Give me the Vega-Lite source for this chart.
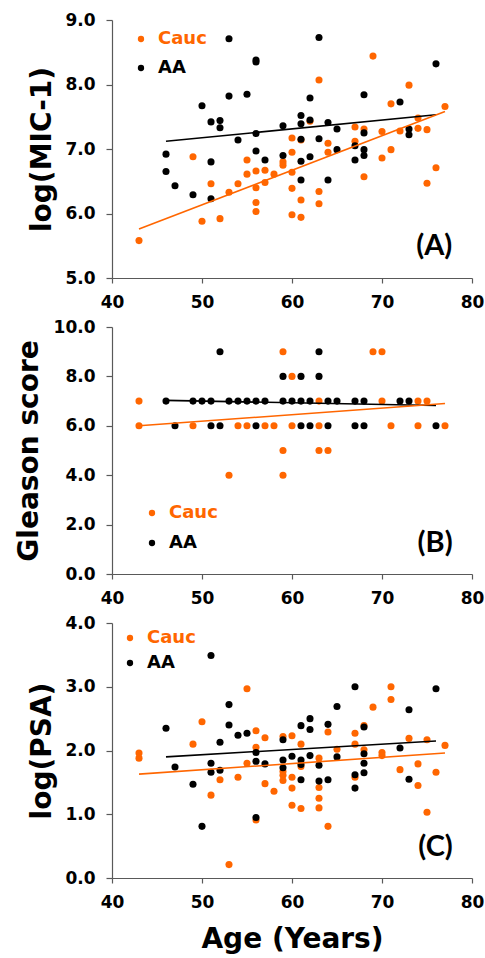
{
  "$schema": "https://vega.github.io/schema/vega-lite/v6.json",
  "padding": {"left": 15, "top": 11, "right": 2, "bottom": 2},
  "spacing": 8,
  "datasets": {
    "mic": [
      {"g": "Cauc", "age": 43, "v": 5.58}, {"g": "Cauc", "age": 49, "v": 6.88}, {"g": "Cauc", "age": 50, "v": 5.88},
      {"g": "Cauc", "age": 51, "v": 6.46}, {"g": "Cauc", "age": 52, "v": 5.92}, {"g": "Cauc", "age": 53, "v": 6.33},
      {"g": "Cauc", "age": 54, "v": 6.46}, {"g": "Cauc", "age": 55, "v": 6.83}, {"g": "Cauc", "age": 55, "v": 6.61},
      {"g": "Cauc", "age": 56, "v": 6.66}, {"g": "Cauc", "age": 56, "v": 6.40}, {"g": "Cauc", "age": 56, "v": 6.17},
      {"g": "Cauc", "age": 56, "v": 6.03}, {"g": "Cauc", "age": 57, "v": 6.67}, {"g": "Cauc", "age": 57, "v": 6.48},
      {"g": "Cauc", "age": 58, "v": 6.61}, {"g": "Cauc", "age": 59, "v": 6.80}, {"g": "Cauc", "age": 59, "v": 6.75},
      {"g": "Cauc", "age": 60, "v": 7.17}, {"g": "Cauc", "age": 60, "v": 6.95}, {"g": "Cauc", "age": 60, "v": 6.64},
      {"g": "Cauc", "age": 60, "v": 6.39}, {"g": "Cauc", "age": 60, "v": 5.98}, {"g": "Cauc", "age": 61, "v": 7.14},
      {"g": "Cauc", "age": 61, "v": 6.21}, {"g": "Cauc", "age": 61, "v": 5.94}, {"g": "Cauc", "age": 62, "v": 7.43},
      {"g": "Cauc", "age": 63, "v": 8.07}, {"g": "Cauc", "age": 63, "v": 6.34}, {"g": "Cauc", "age": 63, "v": 6.15},
      {"g": "Cauc", "age": 64, "v": 7.09}, {"g": "Cauc", "age": 64, "v": 6.95}, {"g": "Cauc", "age": 67, "v": 7.34},
      {"g": "Cauc", "age": 67, "v": 7.12}, {"g": "Cauc", "age": 68, "v": 7.31}, {"g": "Cauc", "age": 68, "v": 6.57},
      {"g": "Cauc", "age": 69, "v": 8.44}, {"g": "Cauc", "age": 70, "v": 7.27}, {"g": "Cauc", "age": 70, "v": 6.86},
      {"g": "Cauc", "age": 71, "v": 7.70}, {"g": "Cauc", "age": 71, "v": 6.99}, {"g": "Cauc", "age": 72, "v": 7.28},
      {"g": "Cauc", "age": 73, "v": 7.99}, {"g": "Cauc", "age": 74, "v": 7.48}, {"g": "Cauc", "age": 74, "v": 7.32},
      {"g": "Cauc", "age": 75, "v": 7.30}, {"g": "Cauc", "age": 75, "v": 6.47}, {"g": "Cauc", "age": 76, "v": 6.71},
      {"g": "Cauc", "age": 77, "v": 7.66},
      {"g": "AA", "age": 46, "v": 6.92}, {"g": "AA", "age": 46, "v": 6.65}, {"g": "AA", "age": 47, "v": 6.43},
      {"g": "AA", "age": 49, "v": 6.29}, {"g": "AA", "age": 50, "v": 7.67}, {"g": "AA", "age": 51, "v": 7.42},
      {"g": "AA", "age": 51, "v": 6.80}, {"g": "AA", "age": 51, "v": 6.23}, {"g": "AA", "age": 52, "v": 7.44},
      {"g": "AA", "age": 52, "v": 7.33}, {"g": "AA", "age": 53, "v": 8.71}, {"g": "AA", "age": 53, "v": 7.82},
      {"g": "AA", "age": 54, "v": 7.14}, {"g": "AA", "age": 55, "v": 7.85}, {"g": "AA", "age": 56, "v": 8.38},
      {"g": "AA", "age": 56, "v": 8.35}, {"g": "AA", "age": 56, "v": 7.24}, {"g": "AA", "age": 56, "v": 6.97},
      {"g": "AA", "age": 57, "v": 6.83}, {"g": "AA", "age": 59, "v": 7.36}, {"g": "AA", "age": 59, "v": 6.90},
      {"g": "AA", "age": 61, "v": 7.52}, {"g": "AA", "age": 61, "v": 7.39}, {"g": "AA", "age": 61, "v": 7.15},
      {"g": "AA", "age": 61, "v": 6.81}, {"g": "AA", "age": 61, "v": 6.52}, {"g": "AA", "age": 62, "v": 7.79},
      {"g": "AA", "age": 62, "v": 7.45}, {"g": "AA", "age": 62, "v": 6.88}, {"g": "AA", "age": 63, "v": 8.73},
      {"g": "AA", "age": 63, "v": 7.16}, {"g": "AA", "age": 64, "v": 7.41}, {"g": "AA", "age": 64, "v": 6.52},
      {"g": "AA", "age": 65, "v": 7.31}, {"g": "AA", "age": 65, "v": 6.99}, {"g": "AA", "age": 67, "v": 7.05},
      {"g": "AA", "age": 67, "v": 6.83}, {"g": "AA", "age": 68, "v": 7.84}, {"g": "AA", "age": 68, "v": 7.25},
      {"g": "AA", "age": 68, "v": 6.99}, {"g": "AA", "age": 68, "v": 6.90}, {"g": "AA", "age": 72, "v": 7.73},
      {"g": "AA", "age": 73, "v": 7.31}, {"g": "AA", "age": 73, "v": 7.22}, {"g": "AA", "age": 76, "v": 8.32}
    ],
    "gleason": [
      {"g": "Cauc", "age": 43, "v": 7}, {"g": "Cauc", "age": 63, "v": 7}, {"g": "Cauc", "age": 70, "v": 7},
      {"g": "Cauc", "age": 74, "v": 7}, {"g": "Cauc", "age": 75, "v": 7},
      {"g": "Cauc", "age": 43, "v": 6}, {"g": "Cauc", "age": 49, "v": 6}, {"g": "Cauc", "age": 54, "v": 6},
      {"g": "Cauc", "age": 55, "v": 6}, {"g": "Cauc", "age": 57, "v": 6}, {"g": "Cauc", "age": 58, "v": 6},
      {"g": "Cauc", "age": 60, "v": 6}, {"g": "Cauc", "age": 63, "v": 6}, {"g": "Cauc", "age": 71, "v": 6},
      {"g": "Cauc", "age": 74, "v": 6}, {"g": "Cauc", "age": 77, "v": 6},
      {"g": "Cauc", "age": 59, "v": 9}, {"g": "Cauc", "age": 69, "v": 9}, {"g": "Cauc", "age": 70, "v": 9},
      {"g": "Cauc", "age": 60, "v": 8},
      {"g": "Cauc", "age": 59, "v": 5}, {"g": "Cauc", "age": 63, "v": 5}, {"g": "Cauc", "age": 64, "v": 5},
      {"g": "Cauc", "age": 53, "v": 4}, {"g": "Cauc", "age": 59, "v": 4},
      {"g": "AA", "age": 46, "v": 7}, {"g": "AA", "age": 49, "v": 7}, {"g": "AA", "age": 50, "v": 7},
      {"g": "AA", "age": 51, "v": 7}, {"g": "AA", "age": 53, "v": 7}, {"g": "AA", "age": 54, "v": 7},
      {"g": "AA", "age": 55, "v": 7}, {"g": "AA", "age": 56, "v": 7}, {"g": "AA", "age": 57, "v": 7},
      {"g": "AA", "age": 59, "v": 7}, {"g": "AA", "age": 60, "v": 7}, {"g": "AA", "age": 61, "v": 7},
      {"g": "AA", "age": 62, "v": 7}, {"g": "AA", "age": 64, "v": 7}, {"g": "AA", "age": 65, "v": 7},
      {"g": "AA", "age": 67, "v": 7}, {"g": "AA", "age": 68, "v": 7}, {"g": "AA", "age": 72, "v": 7},
      {"g": "AA", "age": 73, "v": 7},
      {"g": "AA", "age": 47, "v": 6}, {"g": "AA", "age": 51, "v": 6}, {"g": "AA", "age": 52, "v": 6},
      {"g": "AA", "age": 56, "v": 6}, {"g": "AA", "age": 61, "v": 6}, {"g": "AA", "age": 62, "v": 6},
      {"g": "AA", "age": 64, "v": 6}, {"g": "AA", "age": 67, "v": 6}, {"g": "AA", "age": 68, "v": 6},
      {"g": "AA", "age": 76, "v": 6},
      {"g": "AA", "age": 52, "v": 9}, {"g": "AA", "age": 63, "v": 9},
      {"g": "AA", "age": 59, "v": 8}, {"g": "AA", "age": 61, "v": 8}, {"g": "AA", "age": 63, "v": 8}
    ],
    "psa": [
      {"g": "Cauc", "age": 43, "v": 1.96}, {"g": "Cauc", "age": 43, "v": 1.88}, {"g": "Cauc", "age": 49, "v": 2.10},
      {"g": "Cauc", "age": 50, "v": 2.45}, {"g": "Cauc", "age": 51, "v": 1.30}, {"g": "Cauc", "age": 52, "v": 1.54},
      {"g": "Cauc", "age": 53, "v": 0.21}, {"g": "Cauc", "age": 54, "v": 1.58}, {"g": "Cauc", "age": 55, "v": 2.97},
      {"g": "Cauc", "age": 55, "v": 1.80}, {"g": "Cauc", "age": 56, "v": 2.31}, {"g": "Cauc", "age": 56, "v": 2.05},
      {"g": "Cauc", "age": 56, "v": 0.91}, {"g": "Cauc", "age": 57, "v": 2.20}, {"g": "Cauc", "age": 57, "v": 1.48},
      {"g": "Cauc", "age": 58, "v": 1.36}, {"g": "Cauc", "age": 59, "v": 2.22}, {"g": "Cauc", "age": 59, "v": 1.67},
      {"g": "Cauc", "age": 59, "v": 1.61}, {"g": "Cauc", "age": 59, "v": 1.53}, {"g": "Cauc", "age": 60, "v": 2.23},
      {"g": "Cauc", "age": 60, "v": 1.58}, {"g": "Cauc", "age": 60, "v": 1.41}, {"g": "Cauc", "age": 60, "v": 1.14},
      {"g": "Cauc", "age": 61, "v": 2.10}, {"g": "Cauc", "age": 61, "v": 1.75}, {"g": "Cauc", "age": 61, "v": 1.09},
      {"g": "Cauc", "age": 63, "v": 1.88}, {"g": "Cauc", "age": 63, "v": 1.42}, {"g": "Cauc", "age": 63, "v": 1.25},
      {"g": "Cauc", "age": 63, "v": 1.10}, {"g": "Cauc", "age": 64, "v": 2.29}, {"g": "Cauc", "age": 64, "v": 0.81},
      {"g": "Cauc", "age": 65, "v": 2.02}, {"g": "Cauc", "age": 67, "v": 2.27}, {"g": "Cauc", "age": 67, "v": 2.10},
      {"g": "Cauc", "age": 67, "v": 1.58}, {"g": "Cauc", "age": 68, "v": 2.39}, {"g": "Cauc", "age": 68, "v": 2.01},
      {"g": "Cauc", "age": 69, "v": 2.68}, {"g": "Cauc", "age": 70, "v": 1.97}, {"g": "Cauc", "age": 70, "v": 1.92},
      {"g": "Cauc", "age": 71, "v": 3.00}, {"g": "Cauc", "age": 71, "v": 2.80}, {"g": "Cauc", "age": 72, "v": 1.70},
      {"g": "Cauc", "age": 73, "v": 2.19}, {"g": "Cauc", "age": 74, "v": 1.79}, {"g": "Cauc", "age": 74, "v": 1.45},
      {"g": "Cauc", "age": 75, "v": 2.17}, {"g": "Cauc", "age": 75, "v": 1.03}, {"g": "Cauc", "age": 76, "v": 1.66},
      {"g": "Cauc", "age": 77, "v": 2.08},
      {"g": "AA", "age": 46, "v": 2.35}, {"g": "AA", "age": 47, "v": 1.74}, {"g": "AA", "age": 49, "v": 1.47},
      {"g": "AA", "age": 50, "v": 0.81}, {"g": "AA", "age": 51, "v": 3.49}, {"g": "AA", "age": 51, "v": 1.80},
      {"g": "AA", "age": 51, "v": 1.66}, {"g": "AA", "age": 52, "v": 2.13}, {"g": "AA", "age": 52, "v": 1.69},
      {"g": "AA", "age": 53, "v": 2.72}, {"g": "AA", "age": 53, "v": 2.40}, {"g": "AA", "age": 54, "v": 2.24},
      {"g": "AA", "age": 55, "v": 2.27}, {"g": "AA", "age": 56, "v": 1.97}, {"g": "AA", "age": 56, "v": 1.83},
      {"g": "AA", "age": 56, "v": 0.95}, {"g": "AA", "age": 57, "v": 1.79}, {"g": "AA", "age": 59, "v": 2.17},
      {"g": "AA", "age": 59, "v": 1.85}, {"g": "AA", "age": 59, "v": 1.73}, {"g": "AA", "age": 60, "v": 1.91},
      {"g": "AA", "age": 61, "v": 2.39}, {"g": "AA", "age": 61, "v": 1.85}, {"g": "AA", "age": 61, "v": 1.78},
      {"g": "AA", "age": 61, "v": 1.54}, {"g": "AA", "age": 62, "v": 2.50}, {"g": "AA", "age": 62, "v": 2.33},
      {"g": "AA", "age": 62, "v": 1.92}, {"g": "AA", "age": 63, "v": 1.77}, {"g": "AA", "age": 63, "v": 1.52},
      {"g": "AA", "age": 64, "v": 2.41}, {"g": "AA", "age": 64, "v": 1.54}, {"g": "AA", "age": 65, "v": 2.69},
      {"g": "AA", "age": 65, "v": 1.90}, {"g": "AA", "age": 67, "v": 3.00}, {"g": "AA", "age": 67, "v": 1.62},
      {"g": "AA", "age": 67, "v": 1.41}, {"g": "AA", "age": 68, "v": 2.37}, {"g": "AA", "age": 68, "v": 1.95},
      {"g": "AA", "age": 68, "v": 1.80}, {"g": "AA", "age": 68, "v": 1.65}, {"g": "AA", "age": 72, "v": 2.04},
      {"g": "AA", "age": 73, "v": 2.64}, {"g": "AA", "age": 73, "v": 1.55}, {"g": "AA", "age": 76, "v": 2.97}
    ],
    "fit": [
      {"panel": "A", "g": "AA", "age": 46, "v": 7.12}, {"panel": "A", "g": "AA", "age": 76, "v": 7.53},
      {"panel": "A", "g": "Cauc", "age": 43, "v": 5.76}, {"panel": "A", "g": "Cauc", "age": 77, "v": 7.58},
      {"panel": "B", "g": "AA", "age": 46, "v": 7.03}, {"panel": "B", "g": "AA", "age": 76, "v": 6.82},
      {"panel": "B", "g": "Cauc", "age": 43, "v": 6.0}, {"panel": "B", "g": "Cauc", "age": 77, "v": 6.90},
      {"panel": "C", "g": "AA", "age": 46, "v": 1.90}, {"panel": "C", "g": "AA", "age": 76, "v": 2.15},
      {"panel": "C", "g": "Cauc", "age": 43, "v": 1.63}, {"panel": "C", "g": "Cauc", "age": 77, "v": 1.96}
    ]
  },
  "config": {
    "view": {"stroke": null},
    "font": "DejaVu Sans",
    "axis": {
      "grid": false, "domainColor": "#595959", "tickColor": "#595959", "domainWidth": 1.2, "tickWidth": 1.2,
      "labelFont": "DejaVu Sans", "labelFontWeight": "bold", "labelFontSize": 17, "labelColor": "#000000",
      "titleFont": "DejaVu Sans", "titleFontWeight": "bold", "titleFontSize": 28, "titleColor": "#000000",
      "labelFlush": false, "labelOverlap": false
    },
    "axisX": {"tickSize": 5, "labelPadding": 11, "titlePadding": 15},
    "axisY": {"tickSize": 6, "labelPadding": 11, "titlePadding": 8},
    "legend": {
      "orient": "none", "title": null, "labelFont": "DejaVu Sans", "labelFontWeight": "bold", "labelFontSize": 18,
      "symbolType": "circle", "symbolSize": 40, "labelOffset": 8, "padding": 0, "symbolStrokeWidth": 0
    }
  },
  "resolve": {"scale": {"color": "independent", "x": "independent", "y": "independent"}, "legend": {"color": "independent"}},
  "vconcat": [
    {
      "width": 360, "height": 258,
      "layer": [
        {
          "data": {"name": "mic"},
          "mark": {"type": "circle", "size": 50, "opacity": 1},
          "encoding": {
            "x": {"field": "age", "type": "quantitative", "scale": {"domain": [40, 80], "nice": false, "zero": false}, "axis": {"values": [40, 50, 60, 70, 80], "title": null}},
            "y": {"field": "v", "type": "quantitative", "scale": {"domain": [5, 9], "nice": false, "zero": false}, "axis": {"values": [5, 6, 7, 8, 9], "format": ".1f", "title": "log(MIC-1)"}},
            "color": {"field": "g", "type": "nominal", "scale": {"domain": ["Cauc", "AA"], "range": ["#FF6600", "#000000"]},
              "legend": {"legendX": 20, "legendY": 10, "rowPadding": 11, "labelColor": {"expr": "datum.label == 'Cauc' ? '#FF6600' : '#000000'"}}}
          }
        },
        {
          "data": {"name": "fit"},
          "transform": [{"filter": "datum.panel == 'A'"}],
          "mark": {"type": "line", "strokeWidth": 1.6},
          "encoding": {
            "x": {"field": "age", "type": "quantitative"},
            "y": {"field": "v", "type": "quantitative"},
            "color": {"field": "g", "type": "nominal", "legend": null}
          }
        },
        {
          "data": {"values": [{}]},
          "mark": {"type": "text", "font": "Lato", "fontWeight": "bold", "fontSize": 29, "align": "center", "baseline": "middle", "color": "#000000"},
          "encoding": {"x": {"datum": 75.8}, "y": {"datum": 5.5}, "text": {"value": "(A)"}}
        }
      ]
    },
    {
      "width": 360, "height": 247,
      "layer": [
        {
          "data": {"name": "gleason"},
          "mark": {"type": "circle", "size": 50, "opacity": 1},
          "encoding": {
            "x": {"field": "age", "type": "quantitative", "scale": {"domain": [40, 80], "nice": false, "zero": false}, "axis": {"values": [40, 50, 60, 70, 80], "title": null}},
            "y": {"field": "v", "type": "quantitative", "scale": {"domain": [0, 10], "nice": false}, "axis": {"values": [0, 2, 4, 6, 8, 10], "format": ".1f", "title": "Gleason score", "titlePadding": 10}},
            "color": {"field": "g", "type": "nominal", "scale": {"domain": ["Cauc", "AA"], "range": ["#FF6600", "#000000"]},
              "legend": {"legendX": 31, "legendY": 177, "rowPadding": 12, "labelColor": {"expr": "datum.label == 'Cauc' ? '#FF6600' : '#000000'"}}}
          }
        },
        {
          "data": {"name": "fit"},
          "transform": [{"filter": "datum.panel == 'B'"}],
          "mark": {"type": "line", "strokeWidth": 1.6},
          "encoding": {
            "x": {"field": "age", "type": "quantitative"},
            "y": {"field": "v", "type": "quantitative"},
            "color": {"field": "g", "type": "nominal", "legend": null}
          }
        },
        {
          "data": {"values": [{}]},
          "mark": {"type": "text", "font": "Lato", "fontWeight": "bold", "fontSize": 29, "align": "center", "baseline": "middle", "color": "#000000"},
          "encoding": {"x": {"datum": 75.9}, "y": {"datum": 1.27}, "text": {"value": "(B)"}}
        }
      ]
    },
    {
      "width": 360, "height": 255,
      "layer": [
        {
          "data": {"name": "psa"},
          "mark": {"type": "circle", "size": 50, "opacity": 1},
          "encoding": {
            "x": {"field": "age", "type": "quantitative", "scale": {"domain": [40, 80], "nice": false, "zero": false}, "axis": {"values": [40, 50, 60, 70, 80], "title": "Age (Years)"}},
            "y": {"field": "v", "type": "quantitative", "scale": {"domain": [0, 4], "nice": false}, "axis": {"values": [0, 1, 2, 3, 4], "format": ".1f", "title": "log(PSA)"}},
            "color": {"field": "g", "type": "nominal", "scale": {"domain": ["Cauc", "AA"], "range": ["#FF6600", "#000000"]},
              "legend": {"legendX": 9, "legendY": 6, "rowPadding": 7, "labelColor": {"expr": "datum.label == 'Cauc' ? '#FF6600' : '#000000'"}}}
          }
        },
        {
          "data": {"name": "fit"},
          "transform": [{"filter": "datum.panel == 'C'"}],
          "mark": {"type": "line", "strokeWidth": 1.6},
          "encoding": {
            "x": {"field": "age", "type": "quantitative"},
            "y": {"field": "v", "type": "quantitative"},
            "color": {"field": "g", "type": "nominal", "legend": null}
          }
        },
        {
          "data": {"values": [{}]},
          "mark": {"type": "text", "font": "Lato", "fontWeight": "bold", "fontSize": 29, "align": "center", "baseline": "middle", "color": "#000000"},
          "encoding": {"x": {"datum": 75.95}, "y": {"datum": 0.48}, "text": {"value": "(C)"}}
        }
      ]
    }
  ]
}
